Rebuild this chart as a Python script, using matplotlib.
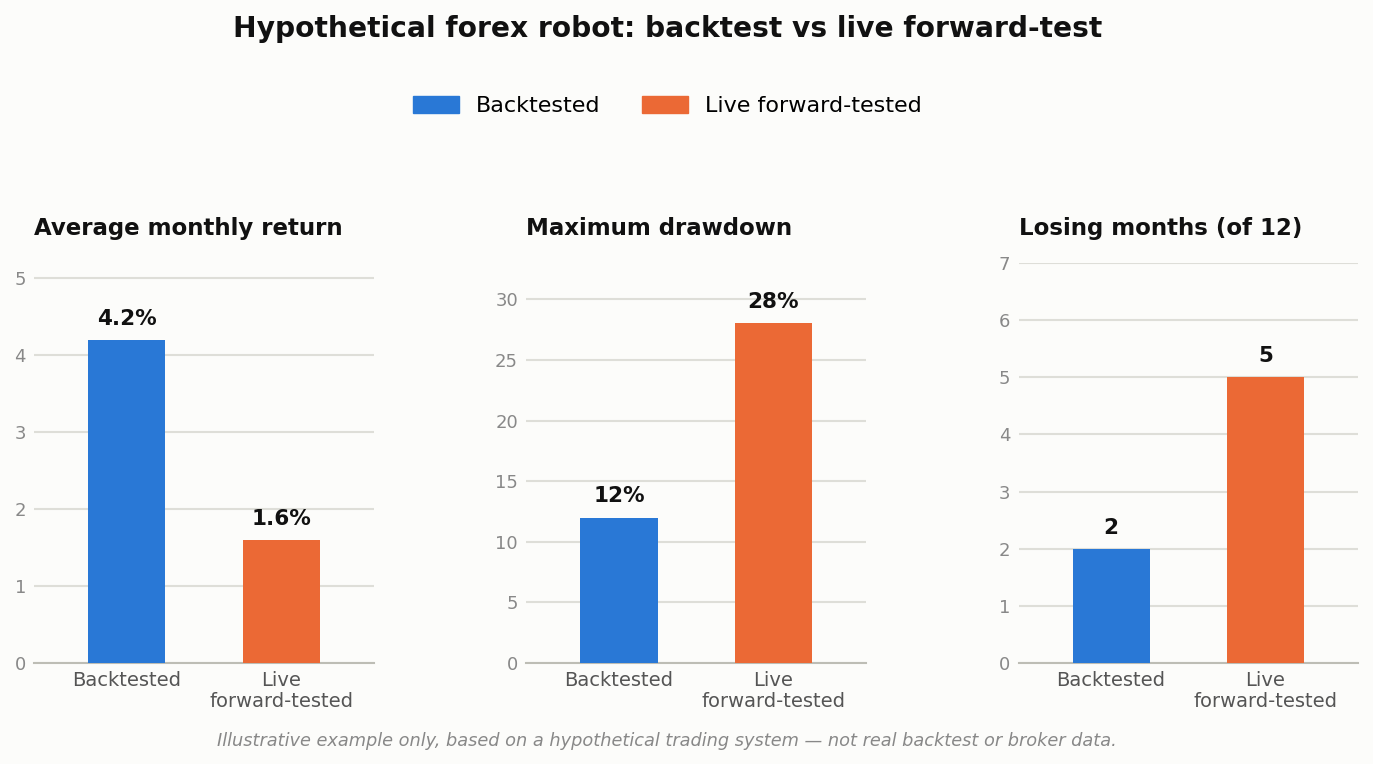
import matplotlib
matplotlib.use("Agg")
import matplotlib.pyplot as plt
from matplotlib.patches import Patch

categories = ["Backtested", "Live\nforward-tested"]
legend_labels = ["Backtested", "Live forward-tested"]
panel_titles = ["Average monthly return", "Maximum drawdown", "Losing months (of 12)"]
avg_return = [4.2, 1.6]
max_drawdown = [12, 28]
losing_months = [2, 5]
value_fmt = ["{:.1f}%", "{:.0f}%", "{:.0f}"]
y_tops = [5.2, 33, 7]
y_ticks = [range(0, 6), range(0, 31, 5), range(0, 8)]

colors = ["#2978d6", "#eb6935"]
bg = "#fcfcfa"

fig, axes = plt.subplots(1, 3, figsize=(13.73, 7.64), dpi=100, facecolor=bg)
fig.subplots_adjust(left=0.025, right=0.989, top=0.656, bottom=0.132, wspace=0.45)

for ax, title, vals, fmt, top, ticks in zip(axes, panel_titles,
                                             [avg_return, max_drawdown, losing_months],
                                             value_fmt, y_tops, y_ticks):
    ax.set_facecolor(bg)
    x = range(len(categories))
    bars = ax.bar(x, vals, width=0.5, color=colors, zorder=3)
    for b, v in zip(bars, vals):
        ax.annotate(fmt.format(v), (b.get_x() + b.get_width() / 2, v),
                    xytext=(0, 8), textcoords="offset points",
                    ha="center", va="bottom", fontsize=15.5, fontweight="bold",
                    color="#111111")
    ax.set_xlim(-0.6, 1.6)
    ax.set_ylim(0, top)
    ax.set_yticks(list(ticks))
    ax.set_xticks(list(x))
    ax.set_xticklabels(categories, fontsize=14, color="#555555", linespacing=1.1)
    ax.tick_params(axis="y", labelsize=13, labelcolor="#888888", length=0, pad=6)
    ax.tick_params(axis="x", length=0, pad=6)
    ax.grid(axis="y", color="#deded8", linewidth=1.5, zorder=0)
    for s in ["top", "right", "left"]:
        ax.spines[s].set_visible(False)
    ax.spines["bottom"].set_color("#bdbdb5")
    ax.spines["bottom"].set_linewidth(1.5)
    ax.set_title(title, loc="left", fontsize=16.5, fontweight="bold",
                 color="#111111", pad=20)

fig.suptitle("Hypothetical forex robot: backtest vs live forward-test",
             x=0.486, fontsize=20.25, fontweight="bold", color="#111111", y=0.98)

handles = [Patch(color=c, label=l) for c, l in zip(colors, legend_labels)]
fig.legend(handles=handles, loc="center", bbox_to_anchor=(0.486, 0.861), ncol=2,
           frameon=False, fontsize=16, handlelength=2.1, handleheight=0.75,
           columnspacing=1.85, handletextpad=0.75)

fig.text(0.486, 0.024, "Illustrative example only, based on a hypothetical trading system \u2014 not real backtest or broker data.",
         ha="center", fontsize=12.75, style="italic", color="#888888")

fig.savefig("out.png", dpi=100, facecolor=bg)
